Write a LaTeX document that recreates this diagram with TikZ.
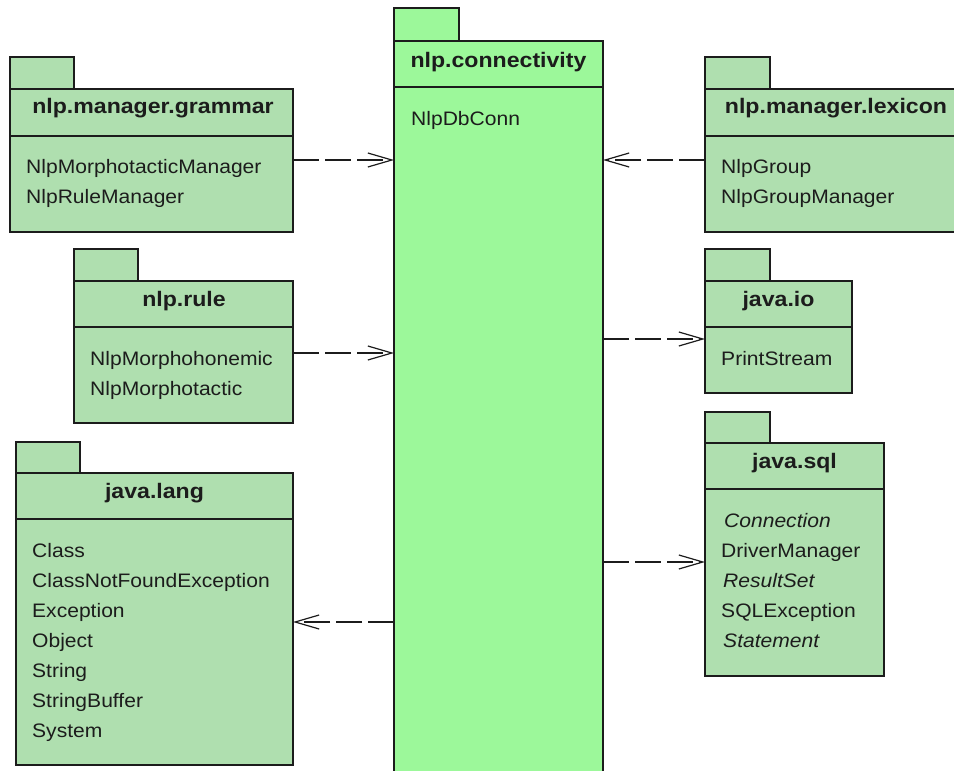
\documentclass[tikz,border=0pt]{standalone}
\usepackage{fontspec}
\setmainfont[FakeStretch=1.08]{Liberation Sans}
\newfontfamily\titlefont[FakeStretch=1.1]{Liberation Sans}
\usetikzlibrary{arrows.meta}

\definecolor{pkgfill}{HTML}{AFDFAF}
\definecolor{mainfill}{HTML}{9CF89A}
\definecolor{ink}{HTML}{1C1C1C}

\tikzset{
  x=1pt, y=1pt,
  pkgpart/.style={draw=ink, line width=1.6pt, fill=pkgfill, inner sep=0pt,
    outer sep=0pt, anchor=north west},
  mainpart/.style={pkgpart, fill=mainfill},
  divider/.style={draw=ink, line width=1.6pt},
  pkgtitle/.style={font=\titlefont\fontsize{21}{24}\selectfont\bfseries,
    anchor=base, inner sep=0pt, text=ink},
  member/.style={font=\fontsize{19.5}{24}\selectfont, anchor=base west,
    inner sep=0pt, text=ink},
  abstract/.style={member, font=\fontsize{19.5}{24}\selectfont\itshape},
  dep/.style={draw=ink, line width=1.5pt, dash pattern=on 26pt off 6pt,
    -{Straight Barb[length=24pt, width=14pt, line width=1.2pt]}},
}

\begin{document}
\begin{tikzpicture}
\useasboundingbox (0,0) rectangle (954,-771);

% ---- nlp.connectivity (central package, runs off the bottom edge)
\node[mainpart, minimum width=65pt, minimum height=33pt] (conn-tab) at (394,-8) {};
\node[mainpart, minimum width=209pt, minimum height=740pt] (conn) at (394,-41) {};
\draw[divider] (conn.west |- 0,-87) -- (conn.east |- 0,-87);
\node[pkgtitle] (conn-title) at (498.5,-67) {nlp.connectivity};
\node[member] (conn-1) at (411,-125) {NlpDbConn};

% ---- nlp.manager.grammar
\node[pkgpart, minimum width=64pt, minimum height=32pt] (gram-tab) at (10,-57) {};
\node[pkgpart, minimum width=283pt, minimum height=143pt] (gram) at (10,-89) {};
\draw[divider] (gram.west |- 0,-136) -- (gram.east |- 0,-136);
\node[pkgtitle] (gram-title) at (153,-113) {nlp.manager.grammar};
\node[member] (gram-1) at (26,-173) {NlpMorphotacticManager};
\node[member] (gram-2) at (26,-203) {NlpRuleManager};

% ---- nlp.rule
\node[pkgpart, minimum width=64pt, minimum height=32pt] (rule-tab) at (74,-249) {};
\node[pkgpart, minimum width=219pt, minimum height=142pt] (rule) at (74,-281) {};
\draw[divider] (rule.west |- 0,-327) -- (rule.east |- 0,-327);
\node[pkgtitle] (rule-title) at (184,-306) {nlp.rule};
\node[member] (rule-1) at (90,-365) {NlpMorphohonemic};
\node[member] (rule-2) at (90,-395) {NlpMorphotactic};

% ---- java.lang
\node[pkgpart, minimum width=64pt, minimum height=31pt] (lang-tab) at (16,-442) {};
\node[pkgpart, minimum width=277pt, minimum height=292pt] (lang) at (16,-473) {};
\draw[divider] (lang.west |- 0,-519) -- (lang.east |- 0,-519);
\node[pkgtitle] (lang-title) at (154.5,-498) {java.lang};
\node[member] (lang-1) at (32,-557) {Class};
\node[member] (lang-2) at (32,-587) {ClassNotFoundException};
\node[member] (lang-3) at (32,-617) {Exception};
\node[member] (lang-4) at (32,-647) {Object};
\node[member] (lang-5) at (32,-677) {String};
\node[member] (lang-6) at (32,-707) {StringBuffer};
\node[member] (lang-7) at (32,-737) {System};

% ---- nlp.manager.lexicon (runs off the right edge)
\node[pkgpart, minimum width=65pt, minimum height=32pt] (lex-tab) at (705,-57) {};
\node[pkgpart, minimum width=262pt, minimum height=143pt] (lex) at (705,-89) {};
\draw[divider] (lex.west |- 0,-136) -- (lex.east |- 0,-136);
\node[pkgtitle] (lex-title) at (836,-113) {nlp.manager.lexicon};
\node[member] (lex-1) at (721,-173) {NlpGroup};
\node[member] (lex-2) at (721,-203) {NlpGroupManager};

% ---- java.io
\node[pkgpart, minimum width=65pt, minimum height=32pt] (io-tab) at (705,-249) {};
\node[pkgpart, minimum width=147pt, minimum height=112pt] (io) at (705,-281) {};
\draw[divider] (io.west |- 0,-327) -- (io.east |- 0,-327);
\node[pkgtitle] (io-title) at (778.5,-306) {java.io};
\node[member] (io-1) at (721,-365) {PrintStream};

% ---- java.sql
\node[pkgpart, minimum width=65pt, minimum height=31pt] (sql-tab) at (705,-412) {};
\node[pkgpart, minimum width=179pt, minimum height=233pt] (sql) at (705,-443) {};
\draw[divider] (sql.west |- 0,-489) -- (sql.east |- 0,-489);
\node[pkgtitle] (sql-title) at (794.5,-468) {java.sql};
\node[abstract] (sql-1) at (724,-527) {Connection};
\node[member] (sql-2) at (721,-557) {DriverManager};
\node[abstract] (sql-3) at (723,-587) {ResultSet};
\node[member] (sql-4) at (721,-617) {SQLException};
\node[abstract] (sql-5) at (723,-647) {Statement};

% ---- dependencies
\coordinate (row-a) at (0,-160);
\coordinate (row-b) at (0,-353);
\coordinate (row-c) at (0,-339);
\coordinate (row-d) at (0,-562);
\coordinate (row-e) at (0,-622);
\draw[dep] (gram.east |- row-a) -- (conn.west |- row-a);
\draw[dep] (lex.west |- row-a) -- (conn.east |- row-a);
\draw[dep] (rule.east |- row-b) -- (conn.west |- row-b);
\draw[dep] (conn.east |- row-c) -- (io.west |- row-c);
\draw[dep] (conn.east |- row-d) -- (sql.west |- row-d);
\draw[dep] (conn.west |- row-e) -- (lang.east |- row-e);
\end{tikzpicture}
\end{document}
